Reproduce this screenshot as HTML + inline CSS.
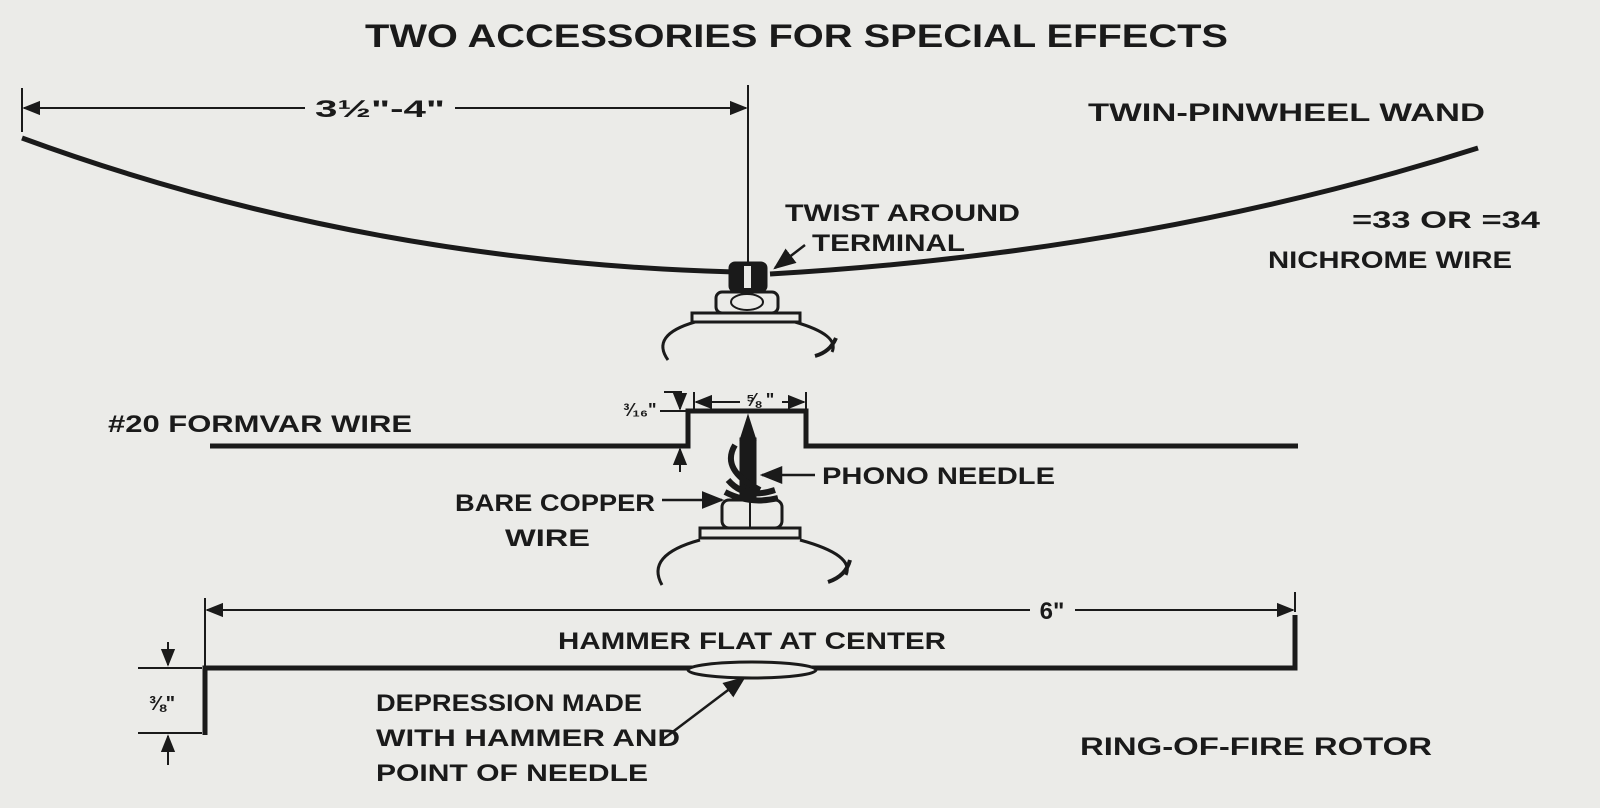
<!DOCTYPE html>
<html><head><meta charset="utf-8"><style>
html,body{margin:0;padding:0;background:#ebebe8;}
svg{display:block}
text{font-family:"Liberation Sans",sans-serif;fill:#1a1a1a;}
.l{font-size:24px;font-weight:bold;}
.b{font-size:25px;font-weight:bold;}
</style></head><body>
<svg width="1600" height="808" viewBox="0 0 1600 808" xmlns="http://www.w3.org/2000/svg">
<defs>
<marker id="a" viewBox="0 0 10 10" refX="9" refY="5" markerWidth="9" markerHeight="9" orient="auto-start-reverse"><path d="M0,1 L10,5 L0,9 z" fill="#1a1a1a"/></marker>
</defs>
<rect width="1600" height="808" fill="#ebebe8"/>
<text x="365" y="47" textLength="863" lengthAdjust="spacingAndGlyphs" style="font-size:32px;font-weight:bold">TWO ACCESSORIES FOR SPECIAL EFFECTS</text>
<g stroke="#1a1a1a" fill="none">
<line x1="22" y1="88" x2="22" y2="132" stroke-width="2"/>
<line x1="748" y1="85" x2="748" y2="262" stroke-width="2"/>
<line x1="24" y1="108" x2="305" y2="108" stroke-width="2" marker-start="url(#a)"/>
<line x1="455" y1="108" x2="746" y2="108" stroke-width="2" marker-end="url(#a)"/>
<path d="M22,138 Q360,262 735,272" stroke-width="5"/>
<path d="M770,274 Q1150,252 1478,148" stroke-width="5"/>
<rect x="729" y="262" width="38" height="30" rx="6" fill="#1a1a1a"/>
<rect x="744" y="266" width="7" height="22" fill="#ebebe8" stroke="none"/>
<rect x="716" y="292" width="62" height="21" rx="6" stroke-width="3"/>
<ellipse cx="747" cy="302" rx="16" ry="8" stroke-width="2"/>
<rect x="692" y="313" width="108" height="9" stroke-width="3"/>
<path d="M695,322 Q650,335 668,360" stroke-width="3"/>
<path d="M795,322 Q840,335 832,352" stroke-width="3"/>
<path d="M815,356 Q830,352 836,338" stroke-width="4"/>
<line x1="805" y1="245" x2="775" y2="268" stroke-width="2.5" marker-end="url(#a)"/>
<path d="M210,446 L688,446 L688,411 L806,411 L806,446 L1298,446" stroke-width="5"/>
<line x1="694" y1="392" x2="694" y2="412" stroke-width="2"/>
<line x1="806" y1="392" x2="806" y2="410" stroke-width="2"/>
<line x1="696" y1="402" x2="740" y2="402" stroke-width="2" marker-start="url(#a)"/>
<line x1="782" y1="402" x2="804" y2="402" stroke-width="2" marker-end="url(#a)"/>
<line x1="660" y1="411" x2="686" y2="411" stroke-width="2"/>
<line x1="680" y1="392" x2="680" y2="409" stroke-width="2" marker-end="url(#a)"/>
<line x1="680" y1="472" x2="680" y2="449" stroke-width="2" marker-end="url(#a)"/>
<line x1="664" y1="392" x2="682" y2="392" stroke-width="2"/>
<path d="M748,415 L740,440 L756,440 z" fill="#1a1a1a"/>
<rect x="740" y="438" width="16" height="60" fill="#1a1a1a"/>
<path d="M735,445 Q720,470 760,490 M728,480 Q745,500 775,490 M725,492 Q750,505 778,498" stroke-width="6"/>
<rect x="722" y="500" width="60" height="28" rx="7" stroke-width="3"/>
<line x1="750" y1="500" x2="750" y2="528" stroke-width="2"/>
<rect x="700" y="528" width="100" height="10" stroke-width="3"/>
<path d="M700,540 Q645,555 662,585" stroke-width="3"/>
<path d="M800,540 Q855,555 846,575" stroke-width="3"/>
<path d="M828,582 Q846,576 850,560" stroke-width="4"/>
<line x1="815" y1="475" x2="762" y2="475" stroke-width="2.5" marker-end="url(#a)"/>
<line x1="662" y1="500" x2="722" y2="500" stroke-width="2.5" marker-end="url(#a)"/>
<line x1="205" y1="598" x2="205" y2="668" stroke-width="2"/>
<line x1="1295" y1="592" x2="1295" y2="612" stroke-width="2"/>
<line x1="207" y1="610" x2="1030" y2="610" stroke-width="2" marker-start="url(#a)"/>
<line x1="1075" y1="610" x2="1293" y2="610" stroke-width="2" marker-end="url(#a)"/>
<path d="M205,735 L205,668 L1295,668 L1295,615" stroke-width="5"/>
<ellipse cx="752" cy="670" rx="64" ry="8" stroke-width="3" fill="#ebebe8"/>
<line x1="138" y1="668" x2="202" y2="668" stroke-width="2"/>
<line x1="138" y1="733" x2="202" y2="733" stroke-width="2"/>
<line x1="168" y1="642" x2="168" y2="665" stroke-width="2" marker-end="url(#a)"/>
<line x1="168" y1="765" x2="168" y2="736" stroke-width="2" marker-end="url(#a)"/>
<line x1="662" y1="740" x2="744" y2="678" stroke-width="2.5" marker-end="url(#a)"/>
</g>
<text x="315" y="117" textLength="130" lengthAdjust="spacingAndGlyphs" class="l">3½"-4"</text>
<text x="1088" y="121" textLength="397" lengthAdjust="spacingAndGlyphs" class="b">TWIN-PINWHEEL WAND</text>
<text x="785" y="221" textLength="235" lengthAdjust="spacingAndGlyphs" class="l">TWIST AROUND</text>
<text x="812" y="251" textLength="153" lengthAdjust="spacingAndGlyphs" class="l">TERMINAL</text>
<text x="1352" y="228" textLength="188" lengthAdjust="spacingAndGlyphs" class="l">=33 OR =34</text>
<text x="1268" y="268" textLength="244" lengthAdjust="spacingAndGlyphs" class="l">NICHROME WIRE</text>
<text x="108" y="432" textLength="304" lengthAdjust="spacingAndGlyphs" class="l">#20 FORMVAR WIRE</text>
<text x="760" y="406" text-anchor="middle" style="font-size:18px;font-weight:bold">⅝ "</text>
<text x="640" y="416" text-anchor="middle" style="font-size:18px;font-weight:bold">³⁄₁₆"</text>
<text x="822" y="484" textLength="233" lengthAdjust="spacingAndGlyphs" class="l">PHONO NEEDLE</text>
<text x="455" y="511" textLength="200" lengthAdjust="spacingAndGlyphs" class="l">BARE COPPER</text>
<text x="505" y="546" textLength="85" lengthAdjust="spacingAndGlyphs" class="l">WIRE</text>
<text x="1052" y="619" text-anchor="middle" class="l">6"</text>
<text x="558" y="649" textLength="388" lengthAdjust="spacingAndGlyphs" class="l">HAMMER FLAT AT CENTER</text>
<text x="162" y="710" text-anchor="middle" style="font-size:20px;font-weight:bold">⅜"</text>
<text x="376" y="711" textLength="266" lengthAdjust="spacingAndGlyphs" class="l">DEPRESSION MADE</text>
<text x="376" y="746" textLength="304" lengthAdjust="spacingAndGlyphs" class="l">WITH HAMMER AND</text>
<text x="376" y="781" textLength="272" lengthAdjust="spacingAndGlyphs" class="l">POINT OF NEEDLE</text>
<text x="1080" y="755" textLength="352" lengthAdjust="spacingAndGlyphs" class="b">RING-OF-FIRE ROTOR</text>
</svg>
</body></html>
